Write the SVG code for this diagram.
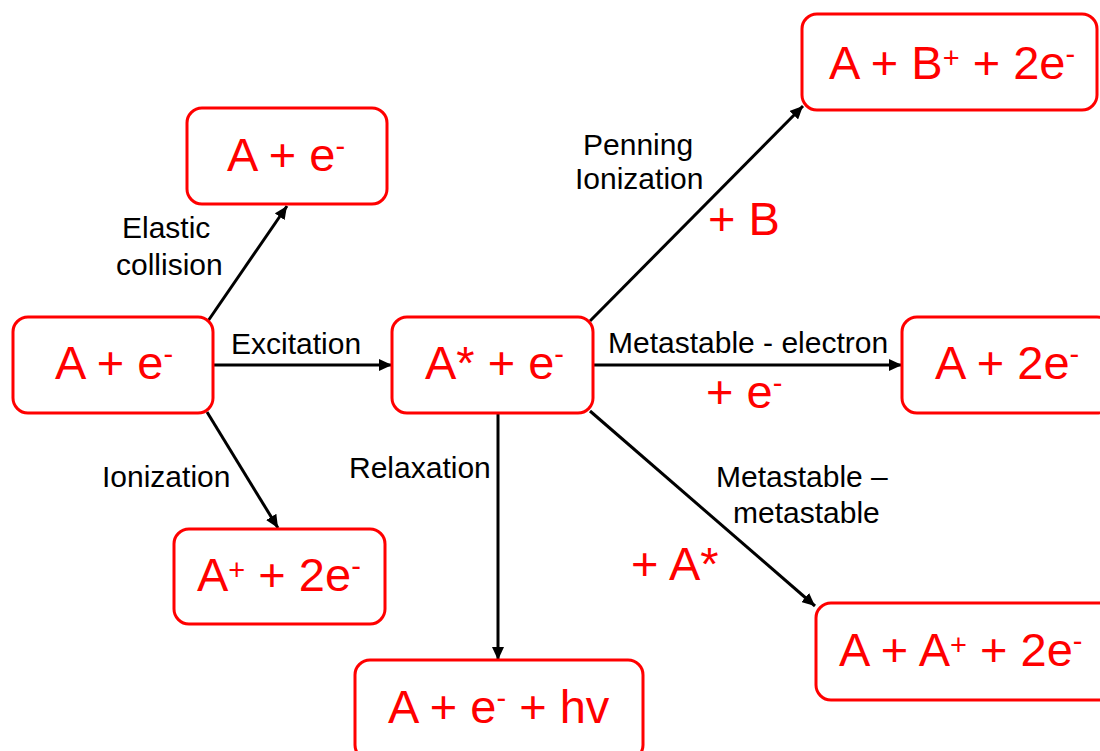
<svg xmlns="http://www.w3.org/2000/svg" width="1100" height="751" viewBox="0 0 1100 751">
<defs>
<style>
.box{fill:#fff;stroke:#ff0000;stroke-width:3}
.t{font-family:"Liberation Sans",Arial,sans-serif;font-size:47px;fill:#ff0000}
.sup{font-size:29px}
.lbl{font-family:"Liberation Sans",Arial,sans-serif;font-size:30px;fill:#000}
.c{stroke:#000;stroke-width:3;fill:none}
</style>
<marker id="ah" markerUnits="userSpaceOnUse" markerWidth="14" markerHeight="12" refX="13" refY="6" orient="auto">
<path d="M0,0 L13,6 L0,12 z" fill="#000"/>
</marker>
</defs>
<rect width="1100" height="751" fill="#fff"/>
<g id="connectors">
<line class="c" x1="208" y1="321" x2="287" y2="206" marker-end="url(#ah)"/>
<line class="c" x1="213" y1="365" x2="392" y2="365" marker-end="url(#ah)"/>
<line class="c" x1="207" y1="412" x2="278" y2="528" marker-end="url(#ah)"/>
<line class="c" x1="498" y1="413" x2="498" y2="660" marker-end="url(#ah)"/>
<line class="c" x1="590" y1="321" x2="803" y2="106" marker-end="url(#ah)"/>
<line class="c" x1="593" y1="365" x2="902" y2="365" marker-end="url(#ah)"/>
<line class="c" x1="590" y1="411" x2="815" y2="606" marker-end="url(#ah)"/>
</g>
<g id="labels">
<text class="lbl" x="122" y="238">Elastic</text>
<text class="lbl" x="116" y="275">collision</text>
<text class="lbl" x="231" y="354">Excitation</text>
<text class="lbl" x="102" y="487">Ionization</text>
<text class="lbl" x="349" y="478">Relaxation</text>
<text class="lbl" x="583" y="155">Penning</text>
<text class="lbl" x="575" y="189">Ionization</text>
<text class="t" x="708" y="235">+ B</text>
<text class="lbl" x="608" y="353">Metastable - electron</text>
<text class="t" x="706" y="408">+ e<tspan class="sup" dy="-15">-</tspan></text>
<text class="lbl" x="716" y="487">Metastable –</text>
<text class="lbl" x="733" y="523">metastable</text>
<text class="t" x="631" y="580">+ A*</text>
</g>
<g id="n1">
<rect class="box" x="13" y="317" width="200" height="96" rx="15"/>
<text class="t" x="55" y="379">A + e<tspan class="sup" dy="-15">-</tspan></text>
</g>
<g id="n2">
<rect class="box" x="187" y="108" width="200" height="96" rx="15"/>
<text class="t" x="227" y="171">A + e<tspan class="sup" dy="-15">-</tspan></text>
</g>
<g id="n3">
<rect class="box" x="174" y="529" width="211" height="95" rx="15"/>
<text class="t" x="197" y="591">A<tspan class="sup" dy="-11">+</tspan><tspan dy="11"> + 2e</tspan><tspan class="sup" dy="-15">-</tspan></text>
</g>
<g id="n4">
<rect class="box" x="392" y="317" width="201" height="96" rx="15"/>
<text class="t" x="425" y="379">A* + e<tspan class="sup" dy="-15">-</tspan></text>
</g>
<g id="n5">
<rect class="box" x="355" y="660" width="288" height="100" rx="15"/>
<text class="t" x="388" y="723">A + e<tspan class="sup" dy="-15">-</tspan><tspan dy="15"> + hv</tspan></text>
</g>
<g id="n6">
<rect class="box" x="802" y="14" width="295" height="96" rx="15"/>
<text class="t" x="829" y="79">A + B<tspan class="sup" dy="-11">+</tspan><tspan dy="11"> + 2e</tspan><tspan class="sup" dy="-15">-</tspan></text>
</g>
<g id="n7">
<rect class="box" x="902" y="317" width="210" height="96" rx="15"/>
<text class="t" x="935" y="379">A + 2e<tspan class="sup" dy="-15">-</tspan></text>
</g>
<g id="n8">
<rect class="box" x="816" y="603" width="300" height="97" rx="15"/>
<text class="t" x="839" y="666">A + A<tspan class="sup" dy="-11">+</tspan><tspan dy="11"> + 2e</tspan><tspan class="sup" dy="-15">-</tspan></text>
</g>
</svg>
